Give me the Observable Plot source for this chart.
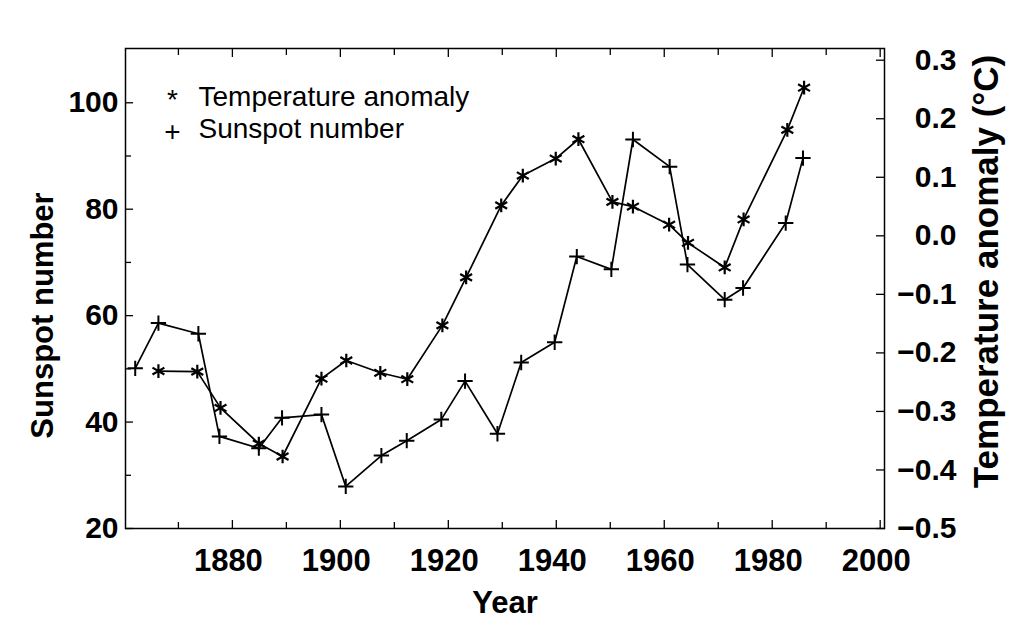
<!DOCTYPE html>
<html><head><meta charset="utf-8">
<script src="https://cdn.jsdelivr.net/npm/d3@7"></script>
<script src="https://cdn.jsdelivr.net/npm/@observablehq/plot@0.6"></script>
<style>html,body{margin:0;padding:0;background:#fff;} #chart svg{display:block}</style>
</head><body><div id="chart"></div>
<script>
// Sunspot number series (left axis)
const sunspotYears = [1862.0, 1866.3, 1873.7, 1877.6, 1884.9, 1889.2, 1896.5, 1901.0, 1907.6, 1912.3, 1918.7, 1923.1, 1929.1, 1933.5, 1939.7, 1943.8, 1950.2, 1954.2, 1961.0, 1964.3, 1971.2, 1974.6, 1982.5, 1985.7];
const sunspotNumbers = [50.1, 58.6, 56.6, 37.3, 35.1, 40.8, 41.4, 27.9, 33.7, 36.5, 40.5, 47.7, 37.8, 51.2, 55.0, 71.1, 68.7, 93.1, 88.0, 69.6, 63.0, 65.2, 77.4, 89.6];
// Temperature anomaly series (right axis, °C)
const tempYears = [1866.3, 1873.5, 1877.8, 1884.9, 1889.3, 1896.5, 1901.1, 1907.4, 1912.4, 1918.9, 1923.3, 1929.8, 1933.8, 1939.9, 1944.1, 1950.4, 1954.2, 1960.9, 1964.4, 1971.2, 1974.7, 1982.8, 1985.9];
const tempAnomalies = [-0.231, -0.232, -0.294, -0.355, -0.377, -0.244, -0.213, -0.234, -0.245, -0.153, -0.071, 0.052, 0.103, 0.132, 0.165, 0.058, 0.050, 0.019, -0.012, -0.054, 0.028, 0.181, 0.253];

const xLabelTicks = [1880, 1900, 1920, 1940, 1960, 1980, 2000];
const xMinorTicks = [1870, 1890, 1910, 1930, 1950, 1970, 1990];
const leftLabelTicks = [20, 40, 60, 80, 100];
const leftMinorTicks = [30, 50, 70, 90];
const rightTicks = [0.3, 0.2, 0.1, 0.0, -0.1, -0.2, -0.3, -0.4, -0.5];
const legendLabels = ["Temperature anomaly", "Sunspot number"];
const legendSymbols = ["*", "+"];
const xTitle = "Year";
const leftTitle = "Sunspot number";
const rightTitle = "Temperature anomaly (°C)";

// right axis aligned with left axis: -0.5 °C at 20, 0.1 °C per 11 sunspot units
const T0 = -0.5, S0 = 20, K = 110;
const toS = t => S0 + (t - T0) * K;
const toT = s => T0 + (s - S0) / K;

const sunspot = sunspotYears.map((year, i) => ({year, value: sunspotNumbers[i]}));
const temperature = tempYears.map((year, i) => ({year, value: tempAnomalies[i]}));

const font = "'Liberation Sans', Arial, Helvetica, sans-serif";
const fmt1 = d3.format(".1f");
const noText = () => "";

const chart = Plot.plot({
  width: 1024,
  height: 626,
  marginLeft: 125,
  marginRight: 140,
  marginTop: 48,
  marginBottom: 98,
  style: {fontFamily: font, background: "white", color: "black"},
  x: {domain: [1860.2, 2000.8]},
  y: {domain: [20, 110.2]},
  marks: [
    Plot.frame({stroke: "black", strokeWidth: 1.5}),
    // bottom axis: labels + inward ticks
    Plot.axisX({ticks: xLabelTicks, tickSize: 0, tickPadding: 20, dx: -4, tickFormat: d3.format("d"), fontSize: 31, fontWeight: "bold", label: null}),
    Plot.axisX({ticks: xLabelTicks, tickSize: 8, dy: -8, tickFormat: noText, label: null, strokeWidth: 1.3}),
    Plot.axisX({ticks: xMinorTicks, tickSize: 6, dy: -6, tickFormat: noText, label: null, strokeWidth: 1.3}),
    // top inward ticks
    Plot.axisX({anchor: "top", ticks: xLabelTicks, tickSize: 8, dy: 8, tickFormat: noText, label: null, strokeWidth: 1.3}),
    Plot.axisX({anchor: "top", ticks: xMinorTicks, tickSize: 6, dy: 6, tickFormat: noText, label: null, strokeWidth: 1.3}),
    // left axis
    Plot.axisY({ticks: leftLabelTicks, tickSize: 0, tickPadding: 7, fontSize: 30, fontWeight: "bold", label: null}),
    Plot.axisY({ticks: leftLabelTicks, tickSize: 8, dx: 8, tickFormat: noText, label: null, strokeWidth: 1.3}),
    Plot.axisY({ticks: leftMinorTicks, tickSize: 6, dx: 6, tickFormat: noText, label: null, strokeWidth: 1.3}),
    // right axis
    Plot.axisY({anchor: "right", ticks: rightTicks.map(toS), tickFormat: s => fmt1(toT(s)), tickSize: 0, tickPadding: 72, textAnchor: "end", fontSize: 30, fontWeight: "bold", label: null}),
    Plot.axisY({anchor: "right", ticks: rightTicks.map(toS), tickSize: 9, dx: -9, tickFormat: noText, label: null, strokeWidth: 1.3}),
    // axis titles
    Plot.text([xTitle], {frameAnchor: "bottom", dy: 84, textAnchor: "middle", fontSize: 31, fontWeight: "bold"}),
    Plot.text([leftTitle], {frameAnchor: "left", dx: -82, dy: 27, rotate: -90, textAnchor: "middle", fontSize: 31, fontWeight: "bold"}),
    Plot.text([rightTitle], {frameAnchor: "right", dx: 102, dy: -17, rotate: -90, textAnchor: "middle", fontSize: 35, fontWeight: "bold"}),
    // series
    Plot.line(sunspot, {x: "year", y: "value", stroke: "black", strokeWidth: 1.7}),
    Plot.dot(sunspot, {x: "year", y: "value", symbol: "plus", r: 5, stroke: "black", strokeWidth: 2}),
    Plot.line(temperature, {x: "year", y: d => toS(d.value), stroke: "black", strokeWidth: 1.7}),
    Plot.dot(temperature, {x: "year", y: d => toS(d.value), symbol: "asterisk", r: 6.5, stroke: "black", strokeWidth: 2.2}),
    // legend
    Plot.text([legendLabels.join("\n")], {frameAnchor: "top-left", dx: 73, dy: 35, lineAnchor: "top", textAnchor: "start", lineHeight: 1.14, fontSize: 28, fill: "black"}),
    Plot.text([legendSymbols.join("\n")], {frameAnchor: "top-left", dx: 47, dy: 38, lineAnchor: "top", textAnchor: "middle", lineHeight: 1.14, fontSize: 28, fill: "black"})
  ]
});
document.getElementById("chart").append(chart);
</script>
</body></html>
